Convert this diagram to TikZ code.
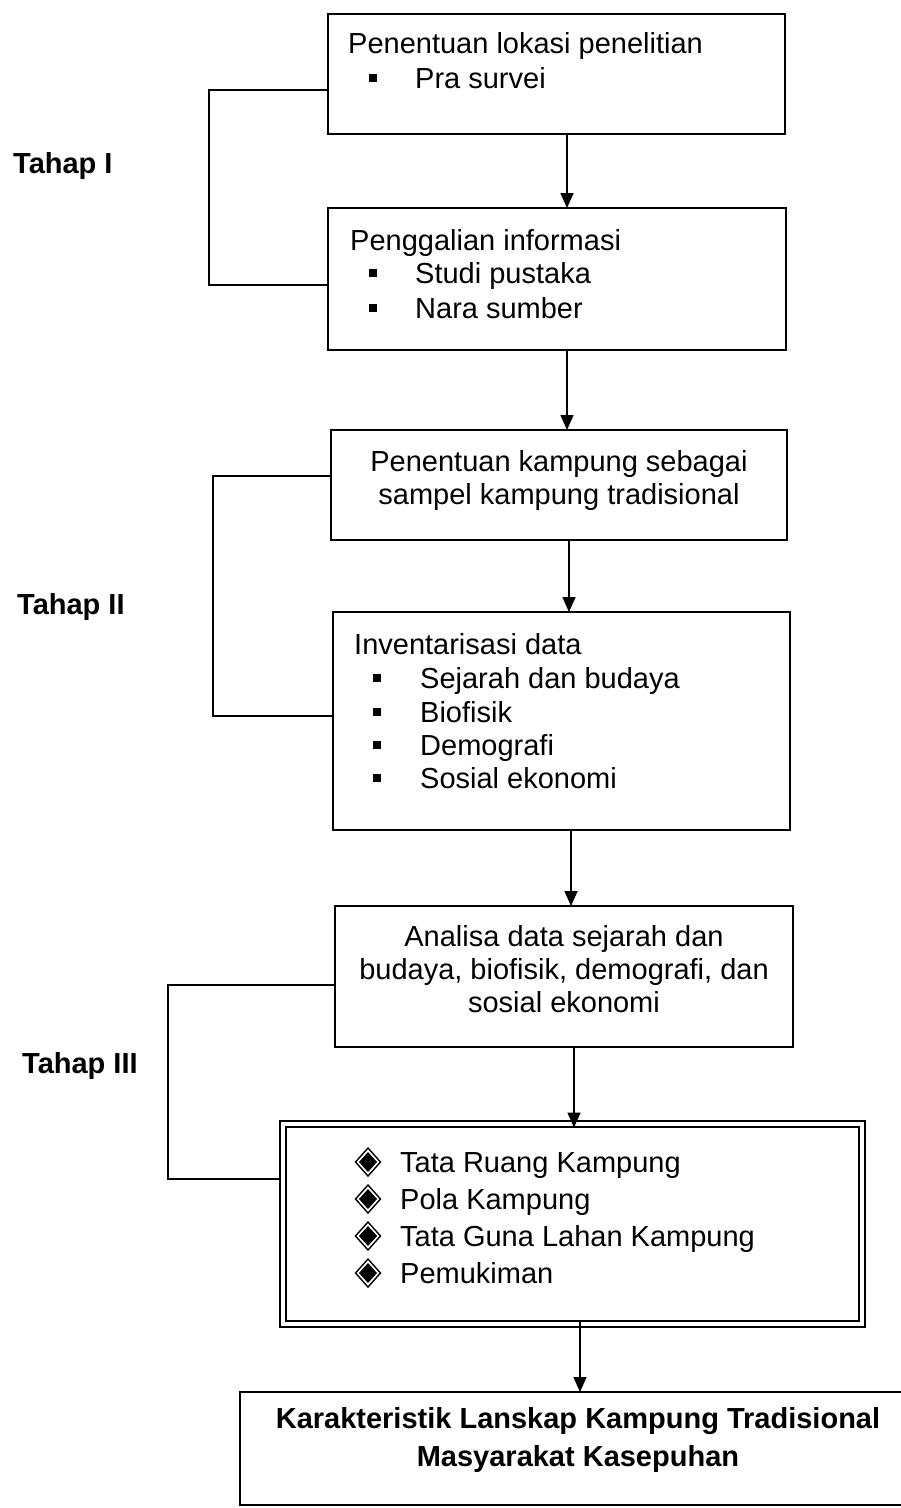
\documentclass[tikz,border=0pt]{standalone}
\usepackage{fontspec}
\setmainfont{Liberation Sans}
\usetikzlibrary{arrows.meta}
\begin{document}
\begin{tikzpicture}[x=1pt,y=-1pt,
  box/.style={draw, line width=1.6pt, inner sep=0pt, outer sep=0pt},
  dbox/.style={draw, double, double distance=4.5pt, line width=1.8pt, inner sep=0pt, outer sep=0pt},
  txt/.style={inner sep=0pt, font=\fontsize{29}{33}\selectfont},
  lt/.style={txt, anchor=west, text height=21pt, text depth=6pt, yshift=-2.5pt},
  ct/.style={txt, align=center},
  bt/.style={inner sep=0pt, align=center, font=\bfseries\fontsize{29}{38}\selectfont},
  lbl/.style={inner sep=0pt, anchor=west, text height=21pt, text depth=0pt, font=\bfseries\fontsize{29}{34}\selectfont},
  arr/.style={line width=1.6pt, -{Triangle[length=15pt,width=13pt]}},
  brk/.style={line width=1.6pt},
  sq/.style={fill, minimum size=8pt, inner sep=0pt},
  dmd/.pic={\draw[line width=1.4pt, fill=white] (0,-14)--(12.5,0)--(0,14)--(-12.5,0)--cycle;
            \fill (0,-10)--(9,0)--(0,10)--(-9,0)--cycle;}
]
\useasboundingbox (0,0) rectangle (901,1508);
\clip (0,0) rectangle (901,1508);
\fill[white] (0,0) rectangle (901,1508);

% boxes
\node[box, minimum width=457pt, minimum height=120pt] (b1) at (556.5,74) {};
\node[box, minimum width=458pt, minimum height=142pt] (b2) at (557,279) {};
\node[box, minimum width=456pt, minimum height=110pt] (b3) at (559,485) {};
\node[box, minimum width=457pt, minimum height=218pt] (b4) at (561.5,721) {};
\node[box, minimum width=458pt, minimum height=141pt] (b5) at (564,976.5) {};
\node[dbox, minimum width=579pt, minimum height=200pt] (b6) at (572.5,1224) {};
\node[box, minimum width=690pt, minimum height=113pt] (b7) at (585,1448.5) {};

% box 1
\node[lt] (t1) at (348,43) {Penentuan lokasi penelitian};
\node[sq] (s11) at (373,78) {};
\node[lt] (t11) at (415,78) {Pra survei};
% box 2
\node[lt] (t2) at (350,240) {Penggalian informasi};
\node[sq] (s21) at (373,273) {};
\node[lt] (t21) at (415,273) {Studi pustaka};
\node[sq] (s22) at (373,308) {};
\node[lt] (t22) at (415,308) {Nara sumber};
% box 3
\node[ct] (t3) at (559,480) {Penentuan kampung sebagai\\sampel kampung tradisional};
% box 4
\node[lt] (t4) at (354,644) {Inventarisasi data};
\node[sq] (s41) at (377,678) {};
\node[lt] (t41) at (420,678) {Sejarah dan budaya};
\node[sq] (s42) at (377,712) {};
\node[lt] (t42) at (420,712) {Biofisik};
\node[sq] (s43) at (377,745) {};
\node[lt] (t43) at (420,745) {Demografi};
\node[sq] (s44) at (377,778) {};
\node[lt] (t44) at (420,778) {Sosial ekonomi};
% box 5
\node[ct] (t5) at (564,969) {Analisa data sejarah dan\\budaya, biofisik, demografi, dan\\sosial ekonomi};
% box 6
\pic at (368,1162) {dmd};
\node[lt] (t61) at (400,1162) {Tata Ruang Kampung};
\pic at (368,1199) {dmd};
\node[lt] (t62) at (400,1199) {Pola Kampung};
\pic at (368,1236) {dmd};
\node[lt] (t63) at (400,1236) {Tata Guna Lahan Kampung};
\pic at (368,1273) {dmd};
\node[lt] (t64) at (400,1273) {Pemukiman};
% box 7
\node[bt] (t7) at (578,1440) {Karakteristik Lanskap Kampung Tradisional\\Masyarakat Kasepuhan};

% stage labels
\node[lbl] (L1) at (13,163) {Tahap I};
\node[lbl] (L2) at (17,604) {Tahap II};
\node[lbl] (L3) at (22,1063) {Tahap III};

% arrows
\draw[arr] (b1.south -| 567,0) -- (b2.north -| 567,0);
\draw[arr] (b2.south -| 567,0) -- (b3.north -| 567,0);
\draw[arr] (b3.south -| 569,0) -- (b4.north -| 569,0);
\draw[arr] (b4.south -| 571,0) -- (b5.north -| 571,0);
\draw[arr] (b5.south -| 574,0) -- ([yshift=-3.5pt]b6.north -| 574,0);
\draw[arr] ([yshift=3.5pt]b6.south -| 580,0) -- (b7.north -| 580,0);

% brackets
\draw[brk] (b1.west |- 0,90) -- (209,90) -- (209,285) -- (b2.west |- 0,285);
\draw[brk] (b3.west |- 0,476) -- (213,476) -- (213,716) -- (b4.west |- 0,716);
\draw[brk] (b5.west |- 0,985) -- (168,985) -- (168,1179) -- ([xshift=-3.5pt]b6.west |- 0,1179);
\end{tikzpicture}
\end{document}
